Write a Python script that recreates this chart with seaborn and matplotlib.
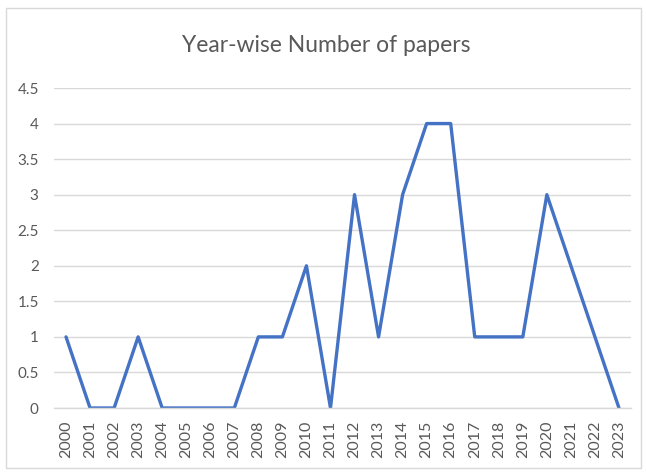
import matplotlib
matplotlib.use("Agg")
import matplotlib.pyplot as plt
from matplotlib.patches import Rectangle
import seaborn as sns
import pandas as pd

years = [str(y) for y in range(2000, 2024)]
papers = [1, 0, 0, 1, 0, 0, 0, 0, 1, 1, 2, 0, 3, 1, 3, 4, 4, 1, 1, 1, 3, 2, 1, 0]
y_ticks = [0, 0.5, 1, 1.5, 2, 2.5, 3, 3.5, 4, 4.5]
y_tick_labels = ["0", "0.5", "1", "1.5", "2", "2.5", "3", "3.5", "4", "4.5"]

sns.set_style("white")
plt.rcParams["font.family"] = ["Lato", "DejaVu Sans"]

df = pd.DataFrame({"year": years, "papers": papers})

fig = plt.figure(figsize=(6.46, 4.73), dpi=100)
ax = fig.add_axes([54 / 646, 1 - 408 / 473, 577 / 646, 320 / 473])

sns.lineplot(data=df, x="year", y="papers", ax=ax, color="#4472C4",
             linewidth=2.4, sort=False)

ax.set_xlim(-0.5, len(years) - 0.5)
ax.set_ylim(0, 4.5)
ax.set_yticks(y_ticks)
ax.set_yticklabels(y_tick_labels)
ax.set_xticks(range(len(years)))
ax.set_xticklabels(years, rotation=90)
ax.tick_params(axis="both", length=0, colors="#595959")
ax.tick_params(axis="x", pad=9, labelsize=11.5)
ax.tick_params(axis="y", pad=11, labelsize=11)
ax.yaxis.grid(True, color="#D9D9D9", linewidth=1)
ax.set_axisbelow(True)
for side in ["top", "right", "left"]:
    ax.spines[side].set_visible(False)
ax.spines["bottom"].set_color("#D9D9D9")
ax.spines["bottom"].set_linewidth(1)
ax.set_xlabel("")
ax.set_ylabel("")

fig.text(326 / 646, 1 - 45 / 473, "Year-wise Number of papers",
         ha="center", va="center", fontsize=16.5, color="#595959")

# chart-area border
fig.patches.append(Rectangle((6 / 646, 5 / 473), 635 / 646, 460 / 473,
                             transform=fig.transFigure, fill=False,
                             edgecolor="#D9D9D9", linewidth=1))

fig.savefig("out.png", dpi=100)
